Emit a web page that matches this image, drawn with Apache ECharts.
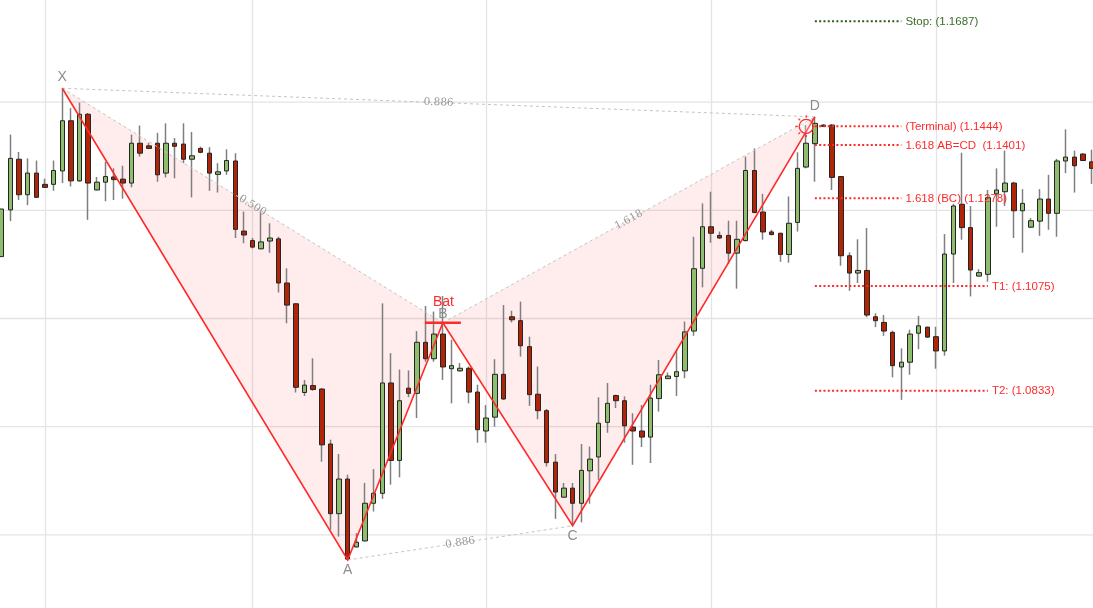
<!DOCTYPE html>
<html>
<head>
<meta charset="utf-8">
<title>Bat pattern</title>
<script src="https://cdn.jsdelivr.net/npm/echarts@6.0.0/dist/echarts.min.js"></script>
<style>
  html, body { margin: 0; padding: 0; background: #ffffff; }
  #chart { width: 1093px; height: 608px; }
</style>
</head>
<body>
<div id="chart"></div>
<script>
// ---- price bars (open / close / low / high) ----
const opens = [
  1.1143, 1.1251, 1.1368, 1.1286, 1.1336, 1.1310, 1.1310, 1.1341, 1.1457, 1.1318,
  1.1472, 1.1297, 1.1315, 1.1327, 1.1322, 1.1313, 1.1405, 1.1399, 1.1405, 1.1336,
  1.1405, 1.1403, 1.1368, 1.1393, 1.1382, 1.1333, 1.1341, 1.1364, 1.1202, 1.1180,
  1.1161, 1.1179, 1.1184, 1.1082, 1.1034, 1.0829, 1.0845, 1.0837, 1.0710, 1.0549,
  1.0629, 1.0472, 1.0486, 1.0573, 1.0596, 1.0851, 1.0672, 1.0839, 1.0827, 1.0945,
  1.0907, 1.0964, 1.0884, 1.0879, 1.0885, 1.0830, 1.0740, 1.0772, 1.0871, 1.1004,
  1.0995, 1.0935, 1.0825, 1.0787, 1.0668, 1.0587, 1.0608, 1.0573, 1.0648, 1.0680,
  1.0760, 1.0822, 1.0810, 1.0749, 1.0740, 1.0726, 1.0815, 1.0861, 1.0866, 1.0879,
  1.0971, 1.1116, 1.1212, 1.1192, 1.1192, 1.1151, 1.1180, 1.1342, 1.1246, 1.1200,
  1.1197, 1.1148, 1.1222, 1.1350, 1.1404, 1.1447, 1.1447, 1.1328, 1.1145, 1.1105,
  1.1111, 1.1004, 1.0991, 1.0968, 1.0888, 1.0899, 1.0966, 1.0980, 1.0958, 1.0925,
  1.1149, 1.1264, 1.1210, 1.1098, 1.1102, 1.1288, 1.1293, 1.1313, 1.1249, 1.1211,
  1.1225, 1.1276, 1.1243, 1.1364, 1.1373, 1.1380, 1.1362
];
const closes = [
  1.1253, 1.1370, 1.1286, 1.1336, 1.1280, 1.1303, 1.1342, 1.1457, 1.1318, 1.1472,
  1.1313, 1.1315, 1.1328, 1.1321, 1.1313, 1.1405, 1.1382, 1.1393, 1.1332, 1.1405,
  1.1398, 1.1368, 1.1376, 1.1384, 1.1336, 1.1339, 1.1365, 1.1206, 1.1193, 1.1165,
  1.1177, 1.1186, 1.1082, 1.1031, 1.0841, 1.0846, 1.0836, 1.0708, 1.0549, 1.0629,
  1.0444, 1.0483, 1.0573, 1.0596, 1.0851, 1.0672, 1.0810, 1.0827, 1.0945, 1.0907,
  1.0964, 1.0888, 1.0891, 1.0885, 1.0830, 1.0743, 1.0770, 1.0871, 1.0814, 1.0997,
  1.0937, 1.0824, 1.0787, 1.0667, 1.0599, 1.0608, 1.0573, 1.0649, 1.0675, 1.0758,
  1.0804, 1.0810, 1.0752, 1.0740, 1.0726, 1.0816, 1.0870, 1.0867, 1.0877, 1.0969,
  1.1115, 1.1212, 1.1197, 1.1186, 1.1151, 1.1183, 1.1342, 1.1245, 1.1200, 1.1194,
  1.1148, 1.1220, 1.1347, 1.1405, 1.1451, 1.1444, 1.1326, 1.1145, 1.1105, 1.1111,
  1.1008, 1.0995, 1.0971, 1.0891, 1.0899, 1.0964, 1.0983, 1.0957, 1.0925, 1.1149,
  1.1260, 1.1210, 1.1112, 1.1106, 1.1279, 1.1297, 1.1313, 1.1249, 1.1266, 1.1226,
  1.1276, 1.1243, 1.1364, 1.1373, 1.1353, 1.1365, 1.1347
];
const lows = [
  1.1140, 1.1225, 1.1274, 1.1262, 1.1279, 1.1302, 1.1295, 1.1313, 1.1305, 1.1316,
  1.1228, 1.1296, 1.1271, 1.1274, 1.1277, 1.1303, 1.1374, 1.1392, 1.1316, 1.1326,
  1.1324, 1.1359, 1.1280, 1.1382, 1.1295, 1.1291, 1.1332, 1.1186, 1.1174, 1.1162,
  1.1160, 1.1152, 1.1060, 1.0989, 1.0829, 1.0821, 1.0833, 1.0669, 1.0512, 1.0496,
  1.0442, 1.0471, 1.0485, 1.0554, 1.0583, 1.0616, 1.0633, 1.0818, 1.0770, 1.0900,
  1.0900, 1.0858, 1.0804, 1.0877, 1.0804, 1.0713, 1.0713, 1.0750, 1.0812, 1.0991,
  1.0912, 1.0798, 1.0767, 1.0658, 1.0537, 1.0586, 1.0521, 1.0529, 1.0572, 1.0627,
  1.0736, 1.0793, 1.0713, 1.0662, 1.0703, 1.0666, 1.0785, 1.0860, 1.0821, 1.0862,
  1.0960, 1.1072, 1.1175, 1.1184, 1.1126, 1.1069, 1.1178, 1.1243, 1.1182, 1.1192,
  1.1131, 1.1129, 1.1201, 1.1347, 1.1316, 1.1443, 1.1297, 1.1122, 1.1064, 1.1082,
  1.1003, 1.0980, 1.0960, 1.0864, 1.0812, 1.0870, 1.0929, 1.0955, 1.0884, 1.0914,
  1.1082, 1.1182, 1.1051, 1.1097, 1.1085, 1.1212, 1.1260, 1.1186, 1.1152, 1.1209,
  1.1191, 1.1205, 1.1189, 1.1336, 1.1291, 1.1364, 1.1311
];
const highs = [
  1.1297, 1.1425, 1.1385, 1.1370, 1.1365, 1.1323, 1.1365, 1.1532, 1.1486, 1.1499,
  1.1475, 1.1327, 1.1362, 1.1347, 1.1353, 1.1425, 1.1446, 1.1406, 1.1429, 1.1451,
  1.1417, 1.1451, 1.1431, 1.1397, 1.1396, 1.1359, 1.1391, 1.1382, 1.1247, 1.1186,
  1.1247, 1.1220, 1.1189, 1.1116, 1.1035, 1.0858, 1.0908, 1.0839, 1.0720, 1.0687,
  1.0639, 1.0504, 1.0620, 1.0652, 1.1035, 1.0920, 1.0882, 1.0880, 1.0971, 1.1029,
  1.1016, 1.1052, 1.0951, 1.0897, 1.0889, 1.0847, 1.0800, 1.0906, 1.1031, 1.1018,
  1.1039, 1.0958, 1.0889, 1.0791, 1.0687, 1.0620, 1.0620, 1.0710, 1.0704, 1.0818,
  1.0851, 1.0824, 1.0820, 1.0781, 1.0800, 1.0847, 1.0904, 1.0875, 1.0928, 1.0993,
  1.1189, 1.1266, 1.1293, 1.1201, 1.1226, 1.1226, 1.1374, 1.1393, 1.1288, 1.1205,
  1.1198, 1.1282, 1.1384, 1.1447, 1.1466, 1.1449, 1.1449, 1.1329, 1.1153, 1.1183,
  1.1209, 1.1012, 1.1008, 1.0972, 1.0931, 1.0974, 1.1006, 1.0981, 1.0981, 1.1195,
  1.1265, 1.1383, 1.1260, 1.1114, 1.1297, 1.1347, 1.1388, 1.1316, 1.1299, 1.1232,
  1.1299, 1.1332, 1.1369, 1.1437, 1.1388, 1.1382, 1.1390
];

// bar numbers along the category axis
const bars = opens.map((_, i) => String(i));
// bars where a vertical grid line is drawn
const gridBars = [5, 29, 56, 82, 108];
// visible price window and horizontal grid levels
const priceMin = 1.0331, priceMax = 1.1736;
const gridPrices = [1.05, 1.075, 1.1, 1.125, 1.15];

// ---- harmonic pattern points: X, A, B, C, D ----
const pointNames = ['X', 'A', 'B', 'C', 'D'];
const pointBars = [7, 40, 51, 66, 94];
const pointPrices = [1.1532, 1.0442, 1.0990, 1.0521, 1.1466];
const patternName = 'Bat';

// Fibonacci ratio legs: [from point, to point, ratio]
const ratioFrom = [0, 0, 1, 2];
const ratioTo = [2, 4, 3, 4];
const ratioText = ['0.500', '0.886', '0.886', '1.618'];

// completion zone marker
const terminalBar = 93;

// ---- trade levels ----
const levelNames = ['Stop:', '(Terminal)', '1.618 AB=CD ', '1.618 (BC)', 'T1:', 'T2:'];
const levelPrices = [1.1687, 1.1444, 1.1401, 1.1278, 1.1075, 1.0833];
const levelStartBar = [94, 94, 94, 94, 94, 94];
const levelEndBar = [104, 104, 104, 104, 114, 114];
const levelKinds = ['stop', 'entry', 'entry', 'entry', 'target', 'target'];

const RED = '#ff2a2a';
const GREY_TEXT = '#8c8c8c';
const STOP_GREEN = '#2e5a1e';
const GRID_COLOR = '#e4e4e4';
const WICK = '#7f7f7f';

const chart = echarts.init(document.getElementById('chart'), null, { renderer: 'canvas' });

const candleData = opens.map((o, i) => [o, closes[i], lows[i], highs[i]]);
const bodyData = opens.map((o, i) => [o, closes[i], Math.min(o, closes[i]), Math.max(o, closes[i])]);

function pt(api, k) {
  return api.coord([pointBars[k], pointPrices[k]]);
}

// horizontal grid, then the pink triangles X-A-B and B-C-D
function renderBackground(params, api) {
  const cs = params.coordSys;
  const children = gridPrices.map((v) => {
    const y = api.coord([0, v])[1];
    return {
      type: 'line',
      shape: { x1: cs.x - 5, y1: y, x2: cs.x + cs.width + 5, y2: y },
      style: { stroke: GRID_COLOR, lineWidth: 1.3 }
    };
  });
  const p = pointNames.map((_, k) => pt(api, k));
  const fill = 'rgba(255, 0, 0, 0.07)';
  children.push({ type: 'polygon', shape: { points: [p[0], p[1], p[2]] }, style: { fill: fill } });
  children.push({ type: 'polygon', shape: { points: [p[2], p[3], p[4]] }, style: { fill: fill } });
  return { type: 'group', children: children };
}

// legs, ratio lines, labels, levels
function renderOverlay(params, api) {
  const p = pointNames.map((_, k) => pt(api, k));
  const children = [];

  // dashed ratio lines and their labels
  ratioFrom.forEach((a, j) => {
    const b = ratioTo[j];
    const p1 = p[a], p2 = p[b];
    children.push({
      type: 'line',
      shape: { x1: p1[0], y1: p1[1], x2: p2[0], y2: p2[1] },
      style: { stroke: '#c4c4c4', lineWidth: 1, lineDash: [3, 3] }
    });
    const ang = Math.atan2(p2[1] - p1[1], p2[0] - p1[0]);
    children.push({
      type: 'text',
      x: (p1[0] + p2[0]) / 2,
      y: (p1[1] + p2[1]) / 2,
      rotation: -ang,
      style: {
        text: ratioText[j], fill: '#9a9a9a',
        fontFamily: '"DejaVu Serif", "Liberation Serif", serif', fontSize: 10.5,
        align: 'center', verticalAlign: 'middle'
      }
    });
  });

  // solid legs X-A-B-C-D
  children.push({
    type: 'polyline',
    shape: { points: p },
    style: { stroke: RED, lineWidth: 1.6, fill: 'none' }
  });

  // point letters
  const offs = [-11, 10, -9, 10.5, -11];
  p.forEach((q, k) => {
    children.push({
      type: 'text', x: q[0], y: q[1] + offs[k],
      style: {
        text: pointNames[k], fill: GREY_TEXT,
        fontFamily: '"Liberation Sans", Arial, sans-serif', fontSize: 14,
        align: 'center', verticalAlign: 'middle'
      }
    });
  });

  // pattern name and marker at B
  const b = p[2];
  children.push({
    type: 'line',
    shape: { x1: b[0] - 18, y1: b[1], x2: b[0] + 18, y2: b[1] },
    style: { stroke: RED, lineWidth: 2.6 }
  });
  children.push({
    type: 'text', x: b[0] + 0.5, y: b[1] - 21,
    style: {
      text: patternName, fill: RED,
      fontFamily: '"Liberation Sans", Arial, sans-serif', fontSize: 14,
      align: 'center', verticalAlign: 'middle'
    }
  });

  // completion marker (circle with rays)
  const t = api.coord([terminalBar, levelPrices[1]]);
  children.push({
    type: 'circle', shape: { cx: t[0], cy: t[1], r: 7 },
    style: { stroke: RED, lineWidth: 1.3, fill: 'rgba(255,255,255,0.25)' }
  });
  for (let r = 0; r < 8; r++) {
    const a = r * Math.PI / 4;
    children.push({
      type: 'line',
      shape: {
        x1: t[0] + Math.cos(a) * 8.5, y1: t[1] + Math.sin(a) * 8.5,
        x2: t[0] + Math.cos(a) * 11, y2: t[1] + Math.sin(a) * 11
      },
      style: { stroke: RED, lineWidth: 1.2 }
    });
  }

  // trade levels
  levelPrices.forEach((v, k) => {
    const s = api.coord([levelStartBar[k], v]);
    const e = api.coord([levelEndBar[k], v]);
    const col = levelKinds[k] === 'stop' ? STOP_GREEN : RED;
    children.push({
      type: 'line',
      shape: { x1: s[0], y1: s[1], x2: e[0], y2: e[1] },
      style: { stroke: col, lineWidth: 2, lineDash: [2, 2.3] }
    });
    children.push({
      type: 'text', x: e[0] + 4, y: e[1] + 0.5,
      style: {
        text: levelNames[k] + ' (' + v.toFixed(4) + ')',
        fill: levelKinds[k] === 'stop' ? '#3d6b2c' : RED,
        fontFamily: '"Liberation Sans", Arial, sans-serif', fontSize: 11.5,
        align: 'left', verticalAlign: 'middle'
      }
    });
  });

  return { type: 'group', children: children };
}

const option = {
  animation: false,
  backgroundColor: '#ffffff',
  grid: { left: 1.7, right: 1.3, top: 0, bottom: 0, containLabel: false },
  xAxis: {
    type: 'category',
    data: bars,
    boundaryGap: false,
    axisLine: { show: false },
    axisTick: { show: false },
    axisLabel: { show: false },
    splitLine: {
      show: true,
      interval: (idx) => gridBars.indexOf(idx) !== -1,
      lineStyle: { color: GRID_COLOR, width: 1.3 }
    }
  },
  yAxis: {
    type: 'value',
    min: priceMin, max: priceMax,
    axisLine: { show: false },
    axisTick: { show: false },
    axisLabel: { show: false },
    splitLine: { show: false }
  },
  series: [
    {
      type: 'custom', name: 'zone', z: 1, silent: true, clip: false,
      data: [0], renderItem: renderBackground
    },
    {
      type: 'candlestick', name: 'wicks', z: 2, silent: true,
      data: candleData, barWidth: 1,
      itemStyle: { color: WICK, color0: WICK, borderColor: WICK, borderColor0: WICK, borderWidth: 1.5 }
    },
    {
      type: 'candlestick', name: 'bodies', z: 3, silent: true,
      data: bodyData, barWidth: 5,
      itemStyle: { color: '#8dbd6d', color0: '#b02508', borderColor: '#242424', borderColor0: '#242424', borderWidth: 1 }
    },
    {
      type: 'custom', name: 'pattern', z: 5, silent: true, clip: false,
      data: [0], renderItem: renderOverlay
    }
  ]
};

chart.setOption(option);
</script>
</body>
</html>
